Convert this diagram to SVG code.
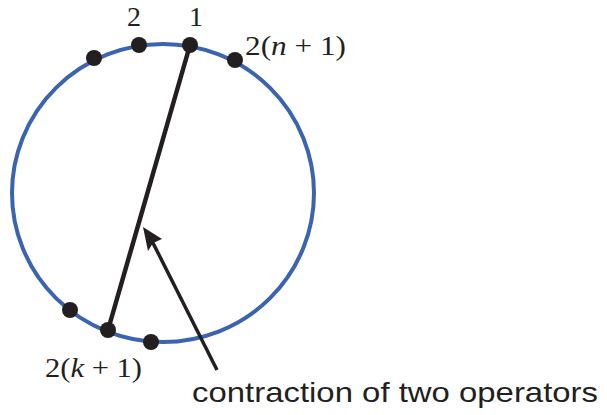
<svg xmlns="http://www.w3.org/2000/svg" width="607" height="415" viewBox="0 0 607 415">
<defs>
<style>
.m{font-family:"Liberation Serif","DejaVu Serif",serif;font-size:28px;fill:#231f20}
.i{font-style:italic}
.dot{fill:#231f20}
</style>
</defs>
<rect width="607" height="415" fill="#fff"/>
<g id="circle"><ellipse cx="163" cy="193" rx="151" ry="149" fill="none" stroke="#3b64b0" stroke-width="4"/></g>
<g id="connectors">
<line x1="190" y1="45" x2="108" y2="330" stroke="#231f20" stroke-width="4.5"/>
<path d="M217,370 L150,237" stroke="#231f20" stroke-width="3.5" fill="none"/>
<path d="M143,227 L162,239 L153,243 L148,251 Z" fill="#231f20"/>
</g>
<g id="p1"><circle class="dot" cx="190" cy="45" r="8"/><text class="m" x="196" y="26" text-anchor="middle">1</text></g>
<g id="p2"><circle class="dot" cx="139" cy="45" r="8"/><text class="m" x="134" y="26" text-anchor="middle">2</text></g>
<g id="p3"><circle class="dot" cx="94" cy="58" r="8"/></g>
<g id="p2n1"><circle class="dot" cx="235" cy="60" r="8"/><text class="m" x="245" y="55" textLength="101" lengthAdjust="spacingAndGlyphs">2(<tspan class="i">n</tspan> + 1)</text></g>
<g id="pa"><circle class="dot" cx="70" cy="310" r="8"/></g>
<g id="p2k1"><circle class="dot" cx="108" cy="330" r="8"/><text class="m" x="45" y="377" textLength="97" lengthAdjust="spacingAndGlyphs">2(<tspan class="i">k</tspan> + 1)</text></g>
<g id="pb"><circle class="dot" cx="151" cy="342" r="8"/></g>
<g id="label"><text x="192" y="402" font-family="Liberation Sans, Arial, sans-serif" font-size="28" fill="#231f20" textLength="406" lengthAdjust="spacingAndGlyphs">contraction of two operators</text></g>
</svg>
